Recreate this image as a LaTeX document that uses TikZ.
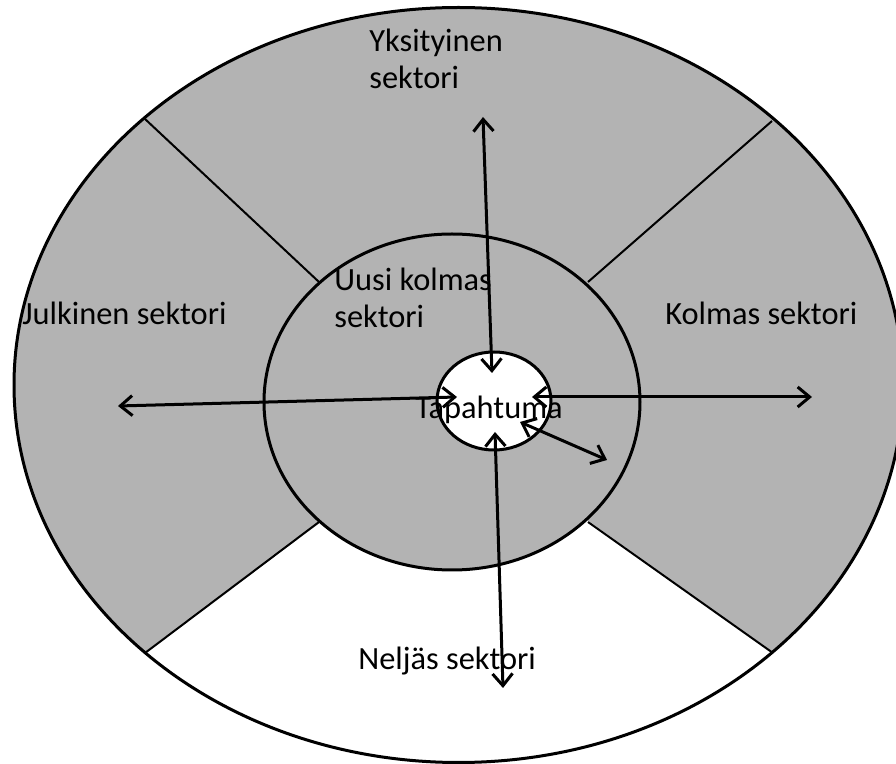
\documentclass[tikz,border=0pt]{standalone}
\usepackage{fontspec}
\setmainfont{Carlito}
\usetikzlibrary{arrows.meta}

\definecolor{sectorgray}{RGB}{179,179,179}
\tikzset{
    lbl/.style={inner sep=0pt, font=\fontsize{16.2}{18.5}\selectfont},
    divline/.style={line width=1pt},
    rim/.style={line width=1.5pt},
    arr/.style={line width=1.5pt, {Straight Barb[length=6pt,width=10pt]}-{Straight Barb[length=6pt,width=10pt]}},
}

\begin{document}
\begin{tikzpicture}[x=0.5pt,y=-0.5pt]
    \useasboundingbox (0,0) rectangle (896,764);

    % Outer ring of sectors
    \fill[sectorgray] (458.5,385) ellipse [x radius=444.5, y radius=377.5];
    \begin{scope}
        \clip (458.5,385) ellipse [x radius=444.5, y radius=377.5];
        \fill[white] (0,762) -- (452,424) -- (896,740) -- (896,800) -- (0,800) -- cycle;
    \end{scope}
    \draw[rim] (458.5,385) ellipse [x radius=444.5, y radius=377.5];

    % Sector borders
    \coordinate (ulo) at (145,119);  \coordinate (uli) at (319,282);
    \coordinate (uro) at (772,121);  \coordinate (uri) at (588,282);
    \coordinate (llo) at (145,653);  \coordinate (lli) at (319,522);
    \coordinate (lro) at (773,653);  \coordinate (lri) at (588,522);
    \draw[divline] (ulo) -- (uli);
    \draw[divline] (uro) -- (uri);
    \draw[divline] (llo) -- (lli);
    \draw[divline] (lro) -- (lri);

    % New third sector and the event
    \draw[rim, fill=sectorgray] (452,402) ellipse [x radius=188, y radius=168];
    \draw[rim, fill=white] (494,401) ellipse [x radius=57, y radius=49];

    % Labels
    \node[lbl, anchor=base west, align=left] (priv) at (369,89) {Yksityinen\\sektori};
    \node[lbl, anchor=base west] (publ) at (22,325) {Julkinen sektori};
    \node[lbl, anchor=base west] (third) at (665,325) {Kolmas sektori};
    \node[lbl, anchor=base west, align=left] (newthird) at (334,328) {Uusi kolmas\\sektori};
    \node[lbl, anchor=base west] (event) at (415,419) {Tapahtuma};
    \node[lbl, anchor=base west] (fourth) at (358,670) {Neljäs sektori};

    % Arrows
    \coordinate (ptop) at (483,117);   \coordinate (etop) at (492,373);
    \coordinate (pleft) at (118,406);  \coordinate (eleft) at (457,397);
    \coordinate (pright) at (812,397); \coordinate (eright) at (532,397);
    \coordinate (pbot) at (503,688);   \coordinate (ebot) at (495,432);
    \coordinate (pdiag) at (607,460);  \coordinate (ediag) at (520,422);
    \draw[arr] (ptop) -- (etop);
    \draw[arr] (pleft) -- (eleft);
    \draw[arr] (eright) -- (pright);
    \draw[arr] (ebot) -- (pbot);
    \draw[arr] (ediag) -- (pdiag);
\end{tikzpicture}
\end{document}
